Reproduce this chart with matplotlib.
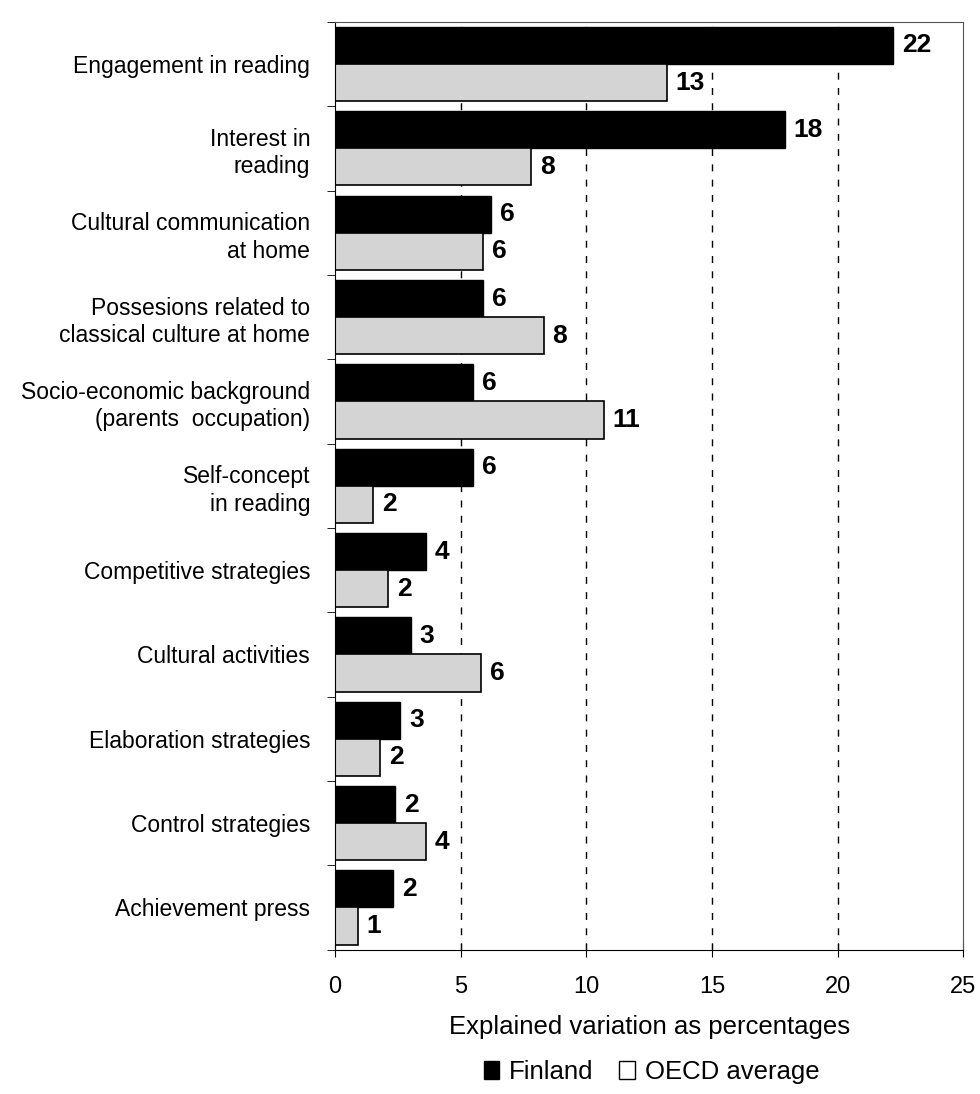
import numpy as np
import matplotlib
matplotlib.use('Agg')
from matplotlib import pyplot as plt
from matplotlib.patches import Patch

# data
categories = ['Engagement in reading', 'Interest in\nreading', 'Cultural communication\nat home',
              'Possesions related to\nclassical culture at home', 'Socio-economic background\n(parents  occupation)',
              'Self-concept\nin reading', 'Competitive strategies', 'Cultural activities',
              'Elaboration strategies', 'Control strategies', 'Achievement press']
finland = [22.2, 17.9, 6.2, 5.9, 5.5, 5.5, 3.6, 3.0, 2.6, 2.4, 2.3]
oecd = [13.2, 7.8, 5.9, 8.3, 10.7, 1.5, 2.1, 5.8, 1.8, 3.6, 0.9]
finland_labels = ['22', '18', '6', '6', '6', '6', '4', '3', '3', '2', '2']
oecd_labels = ['13', '8', '6', '8', '11', '2', '2', '6', '2', '4', '1']
xticks = [0, 5, 10, 15, 20, 25]

plt.rcParams['font.family'] = ['Liberation Sans', 'DejaVu Sans']

fig = plt.figure(figsize=(9.8, 10.94), dpi=100)
ax = fig.add_axes([0.342, 0.132, 0.641, 0.848])

y = np.arange(len(categories))
h = 0.44
ax.barh(y - h/2, finland, height=h, color='black', edgecolor='black', linewidth=1)
ax.barh(y + h/2, oecd, height=h, color='#d4d4d4', edgecolor='black', linewidth=1.2)

for i in range(len(categories)):
    ax.text(finland[i] + 0.35, y[i] - h/2, finland_labels[i], va='center', ha='left',
            fontsize=19, fontweight='bold')
    ax.text(oecd[i] + 0.35, y[i] + h/2, oecd_labels[i], va='center', ha='left',
            fontsize=19, fontweight='bold')

ax.set_xlim(0, 25)
ax.set_ylim(len(categories) - 0.5, -0.5)
for g in [5, 10, 15, 20]:
    ax.axvline(g, color='black', linestyle=(0, (5, 6)), linewidth=1, zorder=0)

ax.set_xticks(xticks)
ax.set_xticklabels([str(t) for t in xticks], fontsize=17)
ax.tick_params(axis='x', direction='inout', length=10, pad=14)
ax.set_yticks(np.arange(len(categories) + 1) - 0.5, minor=True)
ax.set_yticks(y)
ax.set_yticklabels(categories, fontsize=16.5, ha='right', ma='right', linespacing=1.25)
ax.tick_params(axis='y', which='major', length=0, pad=18)
ax.tick_params(axis='y', which='minor', length=6, direction='out')
for s in ['top', 'right']:
    ax.spines[s].set_linewidth(0.8)
    ax.spines[s].set_color('#555555')

ax.set_xlabel('Explained variation as percentages', fontsize=18.5, labelpad=12)

handles = [Patch(facecolor='black', edgecolor='black'),
           Patch(facecolor='white', edgecolor='black')]
fig.legend(handles, ['Finland', 'OECD average'], loc='center', bbox_to_anchor=(0.665, 0.02),
           ncol=2, frameon=False, fontsize=18.5, handlelength=0.6, handleheight=0.7,
           handletextpad=0.4, columnspacing=1.0)

fig.savefig('out.png', dpi=100)
